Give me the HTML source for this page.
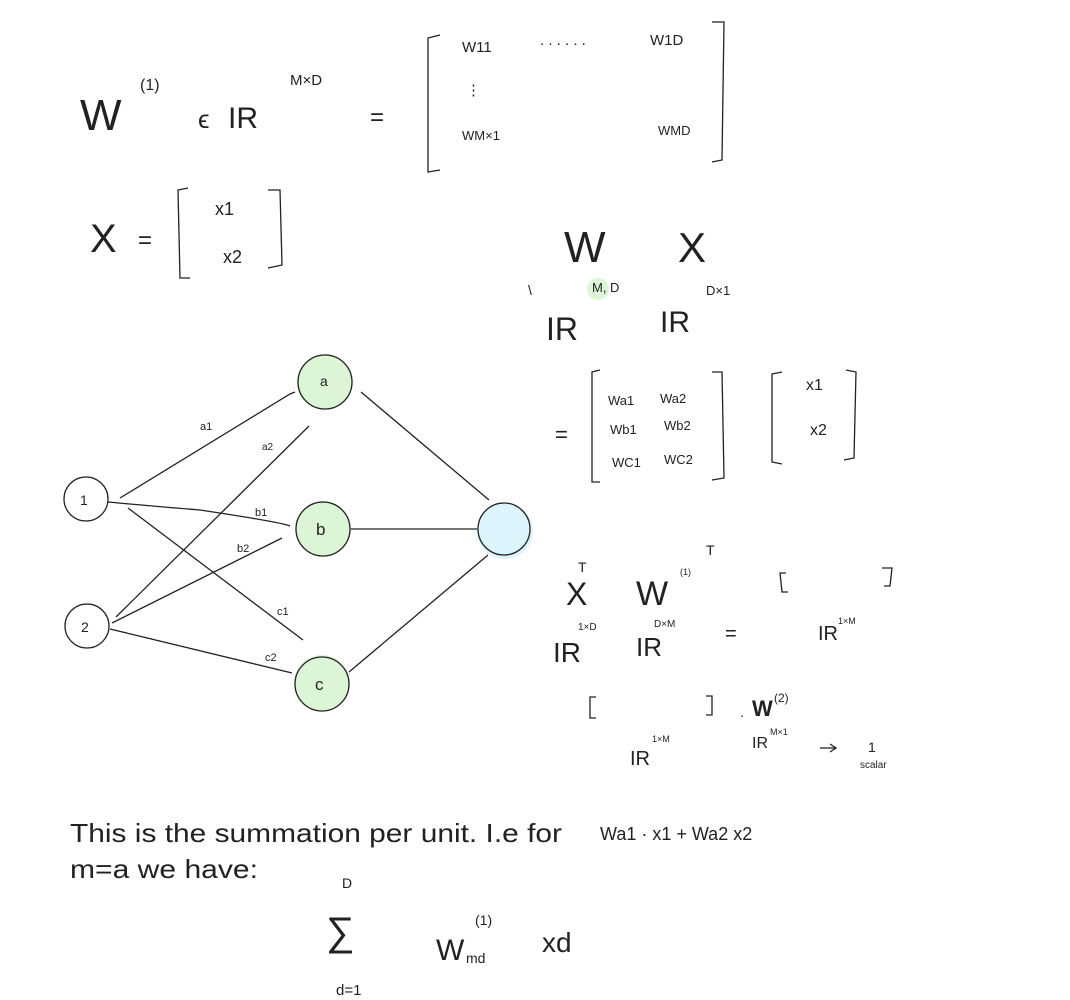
<!DOCTYPE html>
<html><head><meta charset="utf-8"><style>
html,body{margin:0;padding:0;background:#fff;}
svg{display:block}
text{font-family:"Liberation Sans",sans-serif;fill:#222}
.h{font-family:"DejaVu Sans",sans-serif;fill:#222;font-weight:200}
</style></head><body>
<svg width="1070" height="1000" viewBox="0 0 1070 1000" xmlns="http://www.w3.org/2000/svg">
<g stroke="#222" fill="none" stroke-width="1.3">
<path d="M440 35 L428 38 L428 172 L440 170"/>
<path d="M712 22 L724 22 L722 160 L712 162"/>
<path d="M188 188 L178 190 L180 278 L190 278"/>
<path d="M268 190 L280 190 L282 265 L268 268"/>
<path d="M600 370 L592 372 L592 482 L600 482"/>
<path d="M712 372 L722 372 L724 478 L712 480"/>
<path d="M782 372 L772 374 L772 462 L782 464"/>
<path d="M846 370 L856 372 L854 458 L844 460"/>
<path d="M786 573 L780 573 L782 592 L788 592"/>
<path d="M882 568 L892 568 L890 586 L884 586"/>
<path d="M596 697 L590 697 L590 718 L596 718"/>
<path d="M706 696 L712 696 L712 715 L706 715"/>
<path d="M295 392 L290 394 L120 498"/>
<path d="M108 502 Q140 505 200 510 Q280 522 290 526"/>
<path d="M128 508 L303 640"/>
<path d="M116 617 L309 426"/>
<path d="M112 623 L282 538"/>
<path d="M110 629 L292 673"/>
<path d="M361 392 L489 500"/>
<path d="M351 529 L480 529"/>
<path d="M349 672 L488 555"/>
<path d="M820 748 L835 748 M830 744 L836 748 L830 752"/>
</g>
<circle cx="325" cy="382" r="28" fill="#dcf5d6" stroke="none"/>
<circle cx="325" cy="382" r="27" fill="none" stroke="#222" stroke-width="1.3"/>
<circle cx="323" cy="529" r="28" fill="#dcf5d6" stroke="none"/>
<circle cx="323" cy="529" r="27" fill="none" stroke="#222" stroke-width="1.3"/>
<circle cx="322" cy="683" r="28" fill="#dcf5d6" stroke="none"/>
<circle cx="322" cy="684" r="27" fill="none" stroke="#222" stroke-width="1.3"/>
<circle cx="505" cy="531" r="28" fill="#dcf4fb" stroke="none"/>
<circle cx="504" cy="529" r="26" fill="none" stroke="#222" stroke-width="1.3"/>
<circle cx="86" cy="499" r="22" fill="#fff" stroke="#222" stroke-width="1.3"/>
<circle cx="87" cy="626" r="22" fill="#fff" stroke="#222" stroke-width="1.3"/>
<circle cx="598" cy="289" r="11" fill="#dcf5d6"/>
<g class="h" font-size="14">
<text x="80" y="505">1</text><text x="81" y="632">2</text>
<text x="320" y="386">a</text><text x="316" y="535" font-size="17">b</text><text x="315" y="690" font-size="17">c</text>
<text x="200" y="430" font-size="11">a1</text><text x="262" y="450" font-size="10">a2</text>
<text x="255" y="516" font-size="11">b1</text><text x="237" y="552" font-size="11">b2</text>
<text x="277" y="615" font-size="11">c1</text><text x="265" y="661" font-size="11">c2</text>
</g>
<g class="h">
<text x="80" y="130" font-size="44">W</text><text x="140" y="90" font-size="16">(1)</text>
<text x="198" y="128" font-size="26">ϵ</text><text x="228" y="128" font-size="30">IR</text><text x="290" y="85" font-size="15">M×D</text>
<text x="370" y="125" font-size="24">=</text>
<text x="462" y="52" font-size="15">W11</text><text x="540" y="45" font-size="15">. . . . . .</text><text x="650" y="45" font-size="15">W1D</text>
<text x="466" y="95" font-size="15">⋮</text>
<text x="462" y="140" font-size="13">WM×1</text><text x="658" y="135" font-size="13">WMD</text>
<text x="90" y="252" font-size="40">X</text><text x="138" y="248" font-size="24">=</text>
<text x="215" y="215" font-size="18">x1</text><text x="223" y="263" font-size="18">x2</text>
<text x="564" y="262" font-size="44">W</text><text x="678" y="262" font-size="42">X</text>
<text x="528" y="295" font-size="14">\</text><text x="546" y="340" font-size="32">IR</text><text x="592" y="292" font-size="13">M, D</text>
<text x="660" y="332" font-size="30">IR</text><text x="706" y="295" font-size="13">D×1</text>
<text x="555" y="442" font-size="22">=</text>
<text x="608" y="405" font-size="13">Wa1</text><text x="660" y="403" font-size="13">Wa2</text>
<text x="610" y="434" font-size="13">Wb1</text><text x="664" y="430" font-size="13">Wb2</text>
<text x="612" y="467" font-size="13">WC1</text><text x="664" y="464" font-size="13">WC2</text>
<text x="806" y="390" font-size="16">x1</text><text x="810" y="435" font-size="16">x2</text>
<text x="566" y="605" font-size="32">X</text><text x="578" y="572" font-size="14">T</text>
<text x="636" y="605" font-size="34">W</text><text x="680" y="575" font-size="9">(1)</text><text x="706" y="555" font-size="14">T</text>
<text x="553" y="662" font-size="28">IR</text><text x="578" y="630" font-size="10">1×D</text>
<text x="636" y="656" font-size="26">IR</text><text x="654" y="627" font-size="10">D×M</text>
<text x="725" y="640" font-size="20">=</text>
<text x="818" y="640" font-size="20">IR</text><text x="838" y="624" font-size="9">1×M</text>
<text x="740" y="717" font-size="14">.</text><text x="752" y="716" font-size="22" font-weight="bold">W</text><text x="774" y="702" font-size="12">(2)</text>
<text x="630" y="765" font-size="20">IR</text><text x="652" y="742" font-size="9">1×M</text>
<text x="752" y="748" font-size="16">IR</text><text x="770" y="735" font-size="9">M×1</text>
<text x="868" y="752" font-size="14">1</text><text x="860" y="768" font-size="10">scalar</text>
<text x="600" y="840" font-size="18">Wa1 · x1  +  Wa2 x2</text>
<text x="342" y="888" font-size="14">D</text><text x="326" y="945" font-size="40">∑</text>
<text x="336" y="995" font-size="15">d=1</text>
<text x="436" y="960" font-size="30">W</text><text x="466" y="963" font-size="14">md</text>
<text x="475" y="925" font-size="14">(1)</text><text x="542" y="952" font-size="28">xd</text>
</g>
<text x="70" y="842" font-size="26" textLength="492" lengthAdjust="spacingAndGlyphs">This is the summation per unit. I.e for</text>
<text x="70" y="878" font-size="26" textLength="188" lengthAdjust="spacingAndGlyphs">m=a we have:</text>
</svg>
</body></html>
